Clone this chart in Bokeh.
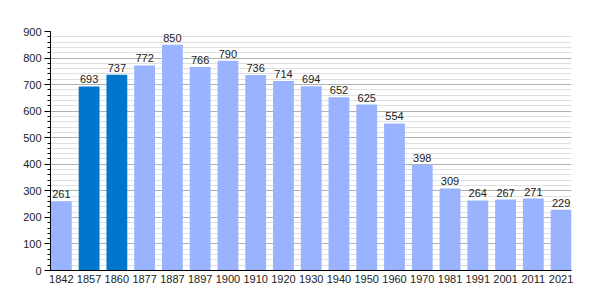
from bokeh.plotting import figure
from bokeh.models import Range1d, FixedTicker, ColumnDataSource, LabelSet
from bokeh.core.properties import value
from bokeh.embed import file_html
from bokeh.resources import INLINE

years = ["1842", "1857", "1860", "1877", "1887", "1897", "1900", "1910", "1920", "1930",
         "1940", "1950", "1960", "1970", "1981", "1991", "2001", "2011", "2021"]
population = [261, 693, 737, 772, 850, 766, 790, 736, 714, 694,
              652, 625, 554, 398, 309, 264, 267, 271, 229]
highlight = [False, True, True] + [False] * 16

LIGHT = "#99b3ff"
DARK = "#0077cc"

xs = list(range(len(years)))
colors = [DARK if h else LIGHT for h in highlight]
src = ColumnDataSource(dict(x=xs, top=population, color=colors,
                            label=[str(v) for v in population]))

p = figure(width=600, height=300, output_backend="svg", toolbar_location=None,
           x_range=Range1d(-0.39, len(years) - 1 + 0.375), y_range=Range1d(0, 900),
           min_border_left=50, min_border_right=29, min_border_top=31, min_border_bottom=30)
p.outline_line_color = None
p.background_fill_color = "white"

p.vbar(x="x", top="top", width=0.75, color="color", source=src, line_color=None)

labels = LabelSet(x="x", y="top", text="label", source=src, text_align="center",
                  text_baseline="bottom", y_offset=3, text_font=value("Liberation Sans"),
                  text_font_size=value("11px"), text_color="#222222")
p.add_layout(labels)

# y axis
p.yaxis.ticker = FixedTicker(ticks=list(range(0, 901, 100)),
                             minor_ticks=list(range(0, 901, 20)))
p.yaxis.axis_line_color = "black"
p.yaxis.major_tick_line_color = "black"
p.yaxis.minor_tick_line_color = "black"
p.yaxis.major_tick_in = 0
p.yaxis.major_tick_out = 6
p.yaxis.minor_tick_in = 0
p.yaxis.minor_tick_out = 3
p.yaxis.major_label_standoff = 3
p.yaxis.major_label_text_font = "Liberation Sans"
p.yaxis.major_label_text_font_size = "11px"
p.yaxis.major_label_text_color = "#222222"

# x axis
p.xaxis.ticker = FixedTicker(ticks=xs)
p.xaxis.major_label_overrides = {i: y for i, y in enumerate(years)}
p.xaxis.axis_line_color = "black"
p.xaxis.major_tick_line_color = None
p.xaxis.minor_tick_line_color = None
p.xaxis.major_tick_out = 0
p.xaxis.major_tick_in = 0
p.xaxis.major_label_standoff = 4
p.xaxis.major_label_text_font = "Liberation Sans"
p.xaxis.major_label_text_font_size = "11px"
p.xaxis.major_label_text_color = "#222222"

# grid
p.xgrid.grid_line_color = None
p.ygrid.grid_line_color = "#b0b0b0"
p.ygrid.minor_grid_line_color = "#e0e0e0"

open("out.html", "w").write(file_html(p, INLINE))
